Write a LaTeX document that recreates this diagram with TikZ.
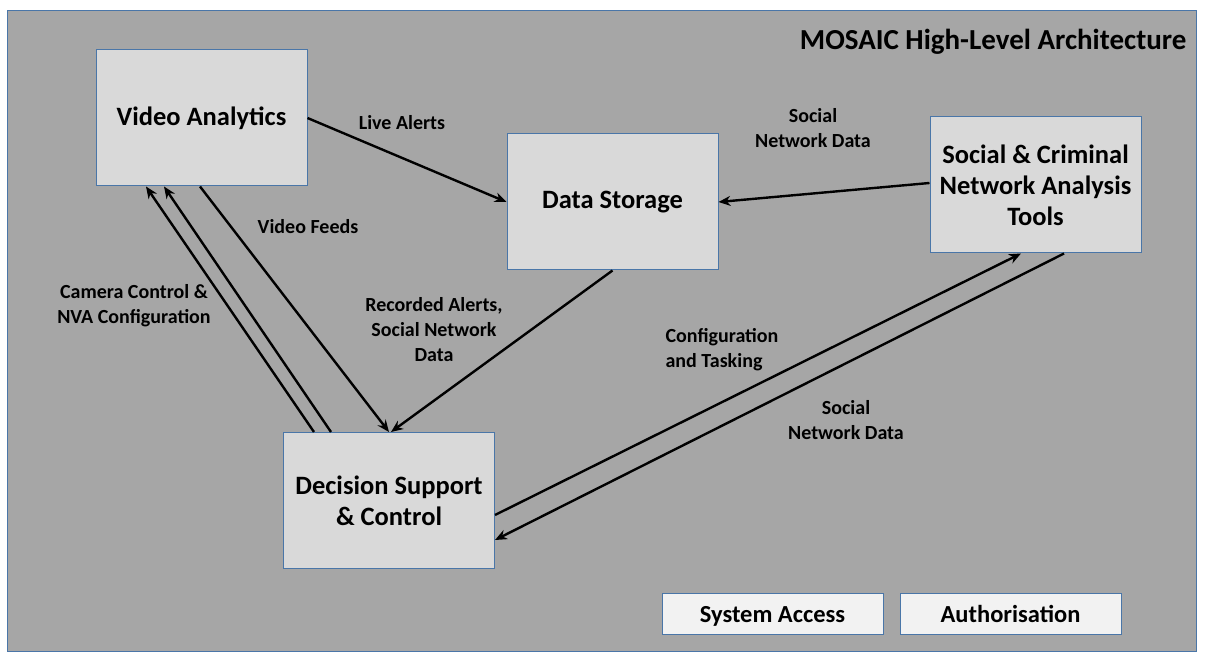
\documentclass[tikz,border=0pt]{standalone}
\usepackage{fontspec}
\setmainfont{Carlito}
\usetikzlibrary{arrows.meta}
\definecolor{panelgrey}{HTML}{A6A6A6}
\definecolor{boxgrey}{HTML}{D9D9D9}
\definecolor{tabgrey}{HTML}{F2F2F2}
\definecolor{edgeblue}{HTML}{4A76A8}
\begin{document}
\begin{tikzpicture}[x=1pt,y=-1pt,
  block/.style={draw=edgeblue,fill=boxgrey,line width=1pt,minimum width=211pt,minimum height=136pt,align=center,inner sep=0pt,font=\fontsize{26.5}{31}\selectfont\bfseries},
  tab/.style={draw=edgeblue,fill=tabgrey,line width=1pt,minimum width=221pt,minimum height=41pt,inner sep=0pt,text height=19.5pt,text depth=2.5pt,font=\fontsize{24.5}{28}\selectfont\bfseries},
  lbl/.style={align=center,inner sep=0pt,font=\fontsize{20}{25}\selectfont\bfseries},
  flow/.style={line width=2.4pt,-{Stealth[length=12pt,width=10pt]}}]
\useasboundingbox (0,0) rectangle (1205,652);
\draw[draw=edgeblue,fill=panelgrey,line width=1pt] (7,11) rectangle (1196,651);
\node[anchor=east,font=\fontsize{29}{34}\selectfont\bfseries] (title) at (1190,42) {MOSAIC High-Level Architecture};
% main blocks
\node[block] (va) at (201.5,118) {Video Analytics};
\node[block] (ds) at (612.5,202) {Data Storage};
\node[block] (snt) at (1035.5,185) {Social \& Criminal\\Network Analysis\\Tools};
\node[block] (dsc) at (389,500.5) {Decision Support\\\& Control};
\node[tab] (sa) at (772.5,613.5) {System Access};
\node[tab] (au) at (1010.5,613.5) {Authorisation};
% flows
\draw[flow] (va.east) -- (ds.west);
\draw[flow] ([yshift=2pt]snt.west) -- (ds.east);
\draw[flow] ([xshift=-1.5pt]va.south) -- (dsc.north);
\draw[flow] ([xshift=-75pt]dsc.north) -- ([xshift=-55.5pt]va.south);
\draw[flow] ([xshift=-58pt]dsc.north) -- ([xshift=-37.5pt]va.south);
\draw[flow] (ds.south) -- ([xshift=2pt]dsc.north);
\draw[flow] ([yshift=-14.5pt]dsc.east) -- ([xshift=-14.5pt]snt.south);
\draw[flow] ([xshift=28.5pt]snt.south) -- ([yshift=-39.5pt]dsc.east);
% labels
\node[lbl] (live) at (402,123) {Live Alerts};
\node[lbl] (socup) at (813,128) {Social\\Network Data};
\node[lbl] (feeds) at (308,227) {Video Feeds};
\node[lbl] (cam) at (134,306) {Camera Control \&\\NVA Configuration};
\node[lbl] (rec) at (434,330) {Recorded Alerts,\\Social Network\\Data};
\node[lbl,align=left] (conf) at (722,350) {Configuration\\and Tasking};
\node[lbl] (soclow) at (846,420) {Social\\Network Data};
\end{tikzpicture}
\end{document}
